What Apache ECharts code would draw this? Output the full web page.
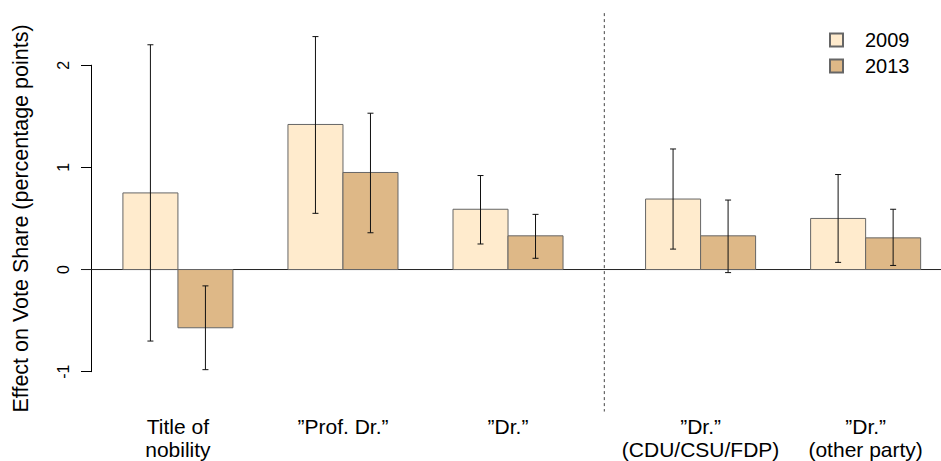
<!DOCTYPE html>
<html>
<head>
<meta charset="utf-8">
<script src="https://cdn.jsdelivr.net/npm/echarts@6/dist/echarts.min.js"></script>
<style>
  html, body { margin: 0; padding: 0; background: #fff; }
  #main { width: 941px; height: 461px; }
</style>
</head>
<body>
<div id="main"></div>
<script>
// categories and where each pair of bars is centred (barplot units)
const categories = ['Title of\nnobility', '\u201dProf. Dr.\u201d', '\u201dDr.\u201d', '\u201dDr.\u201d\n(CDU/CSU/FDP)', '\u201dDr.\u201d\n(other party)'];
const groupCenters = [2, 5, 8, 11.5, 14.5];

// effects and confidence interval ends
const effect2009 = [0.75, 1.42, 0.59, 0.69, 0.50];
const low2009 = [-0.70, 0.55, 0.25, 0.20, 0.07];
const high2009 = [2.20, 2.28, 0.92, 1.18, 0.93];
const effect2013 = [-0.57, 0.95, 0.33, 0.33, 0.31];
const low2013 = [-0.98, 0.36, 0.11, -0.03, 0.04];
const high2013 = [-0.16, 1.53, 0.54, 0.68, 0.59];

const yTicks = [-1, 0, 1, 2];
const dividerX = 9.75;

const FONT = '"Liberation Sans", Arial, Helvetica, sans-serif';

const toRows = (eff, lo, hi) => groupCenters.map((c, i) => [c, eff[i], lo[i], hi[i]]);

function barRenderer(offset, fill) {
    return function (params, api) {
        const c = api.value(0) + offset;
        const v = api.value(1);
        const lo = api.value(2);
        const hi = api.value(3);
        const p0 = api.coord([c, v]);
        const p1 = api.coord([c + 1, 0]);
        const pLo = api.coord([c + 0.5, lo]);
        const pHi = api.coord([c + 0.5, hi]);
        const cap = 3;
        return {
            type: 'group',
            children: [
                {
                    type: 'rect',
                    shape: { x: p0[0], y: Math.min(p0[1], p1[1]), width: p1[0] - p0[0], height: Math.abs(p1[1] - p0[1]) },
                    style: { fill: fill, stroke: '#666', lineWidth: 1 }
                },
                {
                    type: 'line',
                    shape: { x1: pLo[0], y1: pLo[1], x2: pHi[0], y2: pHi[1] },
                    style: { stroke: '#111', lineWidth: 1 }
                },
                {
                    type: 'line',
                    shape: { x1: pLo[0] - cap, y1: pLo[1], x2: pLo[0] + cap, y2: pLo[1] },
                    style: { stroke: '#111', lineWidth: 1 }
                },
                {
                    type: 'line',
                    shape: { x1: pHi[0] - cap, y1: pHi[1], x2: pHi[0] + cap, y2: pHi[1] },
                    style: { stroke: '#111', lineWidth: 1 }
                }
            ]
        };
    };
}

const chart = echarts.init(document.getElementById('main'), null, { renderer: 'svg' });

chart.setOption({
    animation: false,
    backgroundColor: '#fff',
    textStyle: { fontFamily: FONT, color: '#000' },
    grid: { left: 91, top: 65.2, width: 850, bottom: 89.3, containLabel: false },
    legend: {
        data: ['2009', '2013'],
        orient: 'vertical',
        left: 824,
        top: 25,
        itemWidth: 13,
        itemHeight: 13,
        itemGap: 6,
        icon: 'rect',
        textStyle: { fontFamily: FONT, fontSize: 20, color: '#000', padding: [0, 0, 0, 17] }
    },
    xAxis: {
        type: 'value',
        min: 0.42,
        max: 15.87,
        axisLine: { show: false },
        axisTick: { show: false },
        splitLine: { show: false },
        axisLabel: {
            customValues: groupCenters,
            formatter: (val) => {
                const i = groupCenters.indexOf(val);
                return i >= 0 ? categories[i] : '';
            },
            margin: 43,
            fontSize: 21,
            lineHeight: 23,
            color: '#000',
            fontFamily: FONT
        }
    },
    yAxis: {
        type: 'value',
        min: -1,
        max: 2,
        interval: 1,
        name: 'Effect on Vote Share (percentage points)',
        nameLocation: 'middle',
        nameRotate: 90,
        nameGap: 59,
        nameTextStyle: { fontSize: 21.5, color: '#000', fontFamily: FONT },
        axisLine: { show: true, lineStyle: { color: '#000', width: 1 } },
        axisTick: { show: true, length: 10, lineStyle: { color: '#000' }, customValues: yTicks },
        splitLine: { show: false },
        axisLabel: { rotate: 90, margin: 20, fontSize: 16, color: '#000', fontFamily: FONT, customValues: yTicks }
    },
    series: [
        {
            name: 'refs',
            type: 'custom',
            silent: true,
            clip: false,
            z: 1,
            data: [[0]],
            renderItem: (params, api) => {
                const z0 = api.coord([0.24, 0]);
                const z1 = api.coord([15.87, 0]);
                const d0 = api.coord([dividerX, 2.51]);
                const d1 = api.coord([dividerX, -1.39]);
                return {
                    type: 'group',
                    children: [
                        { type: 'line', shape: { x1: z0[0], y1: z0[1], x2: z1[0], y2: z1[1] }, style: { stroke: '#222', lineWidth: 1 } },
                        { type: 'line', shape: { x1: d0[0], y1: d0[1], x2: d1[0], y2: d1[1] }, style: { stroke: '#444', lineWidth: 1, lineDash: [3, 3] } }
                    ]
                };
            }
        },
        {
            name: '2009',
            type: 'custom',
            clip: false,
            z: 2,
            itemStyle: { color: '#FFEBCD', borderColor: '#666', borderWidth: 1 },
            encode: { x: 0, y: [1, 2, 3] },
            data: toRows(effect2009, low2009, high2009),
            renderItem: barRenderer(-1, '#FFEBCD')
        },
        {
            name: '2013',
            type: 'custom',
            clip: false,
            z: 2,
            itemStyle: { color: '#DEB887', borderColor: '#666', borderWidth: 1 },
            encode: { x: 0, y: [1, 2, 3] },
            data: toRows(effect2013, low2013, high2013),
            renderItem: barRenderer(0, '#DEB887')
        }
    ]
});
</script>
</body>
</html>
